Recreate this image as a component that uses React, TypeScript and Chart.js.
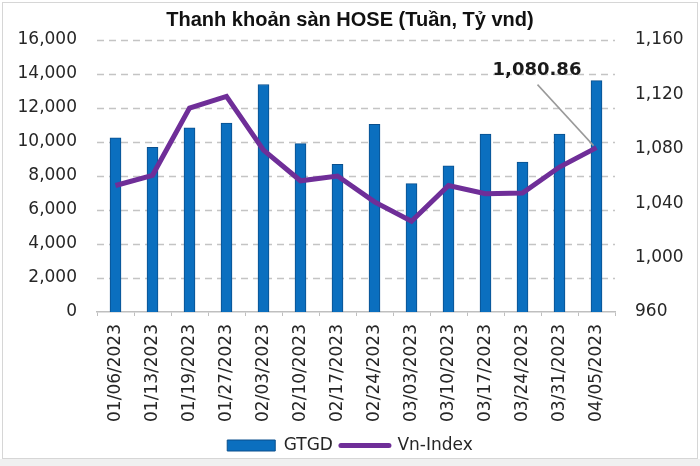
import React, { useEffect, useRef } from "react";
import { Chart, registerables } from "chart.js";

Chart.register(...registerables);

const categories = [
  "01/06/2023", "01/13/2023", "01/19/2023", "01/27/2023", "02/03/2023", "02/10/2023", "02/17/2023",
  "02/24/2023", "03/03/2023", "03/10/2023", "03/17/2023", "03/24/2023", "03/31/2023", "04/05/2023",
];
const gtgdValues = [10250, 9690, 10830, 11120, 13380, 9900, 8690, 11040, 7550, 8600, 10470, 8820, 10470, 13610];
const vnIndexValues = [1053, 1060.5, 1110, 1118.5, 1079, 1056.5, 1060, 1041, 1026.7, 1053, 1047, 1047.5, 1066.6, 1080.86];
const leftAxis = { min: 0, max: 16000, step: 2000 };
const rightAxis = { min: 960, max: 1160, step: 40 };

const TITLE = "Thanh khoản sàn HOSE (Tuần, Tỷ vnd)";
const BAR_COLOR = "#0b6fbf";
const LINE_COLOR = "#6f2e98";
const TICK_FONT = "'DejaVu Sans', sans-serif";

const fmt = (v: number) => v.toLocaleString("en-US");

const dashedGridPlugin = {
  id: "dashedGrid",
  beforeDatasetsDraw(chart: any) {
    const y = chart.scales.y;
    const area = chart.chartArea;
    const ctx = chart.ctx;
    ctx.save();
    ctx.strokeStyle = "#c4c4c4";
    ctx.lineWidth = 1.5;
    ctx.setLineDash([7, 5]);
    y.ticks.forEach((t: any) => {
      if (t.value === leftAxis.min) return;
      const py = Math.round(y.getPixelForValue(t.value)) + 0.5;
      ctx.beginPath();
      ctx.moveTo(area.left, py);
      ctx.lineTo(area.right, py);
      ctx.stroke();
    });
    ctx.restore();
  },
};

const calloutPlugin = {
  id: "callout",
  afterDatasetsDraw(chart: any) {
    const meta = chart.getDatasetMeta(1);
    const last = meta.data[meta.data.length - 1];
    if (!last) return;
    const px = last.x;
    const py = last.y;
    const ctx = chart.ctx;
    ctx.save();
    ctx.strokeStyle = "#9a9a9a";
    ctx.lineWidth = 1.5;
    ctx.beginPath();
    ctx.moveTo(px - 3, py - 2);
    ctx.lineTo(px - 59, py - 63);
    ctx.stroke();
    const v = vnIndexValues[vnIndexValues.length - 1];
    const label = v.toLocaleString("en-US", { minimumFractionDigits: 2, maximumFractionDigits: 2 });
    ctx.font = "bold 18px 'DejaVu Sans', sans-serif";
    ctx.fillStyle = "#1a1a1a";
    ctx.textAlign = "center";
    ctx.textBaseline = "middle";
    ctx.fillText(label, px - 59.5, py - 77);
    ctx.restore();
  },
};

export default function App() {
  const ref = useRef<HTMLCanvasElement | null>(null);

  useEffect(() => {
    document.body.style.margin = "0";
    const canvas = ref.current;
    if (!canvas) return;
    const chart = new Chart(canvas, {
      type: "bar",
      data: {
        labels: categories,
        datasets: [
          {
            type: "bar",
            label: "GTGD",
            data: gtgdValues,
            backgroundColor: BAR_COLOR,
            borderColor: "#0a4f8c",
            borderWidth: 1,
            barThickness: 11,
            yAxisID: "y",
            order: 2,
          },
          {
            type: "line",
            label: "Vn-Index",
            data: vnIndexValues,
            borderColor: LINE_COLOR,
            backgroundColor: LINE_COLOR,
            borderWidth: 5,
            pointRadius: 0,
            pointHoverRadius: 0,
            tension: 0,
            yAxisID: "y1",
            order: 1,
          } as any,
        ],
      },
      options: {
        animation: false,
        responsive: false,
        devicePixelRatio: 1,
        layout: { padding: { left: 0, right: 0, top: 0, bottom: 2 } },
        plugins: {
          title: {
            display: true,
            text: TITLE,
            color: "#111",
            font: { family: "'Liberation Sans', Arial, sans-serif", size: 20, weight: "bold" },
            padding: { top: 8, bottom: 8 },
          },
          legend: {
            position: "bottom",
            labels: {
              usePointStyle: true,
              pointStyleWidth: 48,
              boxHeight: 11,
              padding: 8,
              color: "#262626",
              font: { family: TICK_FONT, size: 17 },
              sort: (a: any, b: any) => a.datasetIndex - b.datasetIndex,
              generateLabels(c: any) {
                const items = Chart.defaults.plugins.legend.labels.generateLabels(c);
                return items.map((it: any) => {
                  if (it.datasetIndex === 0) {
                    return { ...it, pointStyle: "rect", fillStyle: BAR_COLOR, strokeStyle: "#0a4f8c", lineWidth: 1 };
                  }
                  return { ...it, pointStyle: "line", strokeStyle: LINE_COLOR, lineWidth: 5, lineCap: "round" };
                });
              },
            },
          },
          tooltip: { enabled: false },
        },
        scales: {
          x: {
            offset: true,
            grid: {
              display: true,
              drawOnChartArea: false,
              drawTicks: true,
              tickLength: 4,
              color: "#bfbfbf",
              offset: true,
            },
            border: { display: true, color: "#bfbfbf", width: 1.5 },
            ticks: {
              autoSkip: false,
              maxRotation: 90,
              minRotation: 90,
              padding: 8,
              color: "#262626",
              font: { family: TICK_FONT, size: 17 },
            },
            afterFit(scale: any) {
              scale.height = 117;
            },
          },
          y: {
            position: "left",
            min: leftAxis.min,
            max: leftAxis.max,
            grid: { display: false, drawTicks: false },
            border: { display: false },
            ticks: {
              stepSize: leftAxis.step,
              padding: 20,
              color: "#262626",
              font: { family: TICK_FONT, size: 17 },
              callback: (v: any) => fmt(Number(v)),
            },
            afterFit(scale: any) {
              scale.width = 97;
            },
          },
          y1: {
            position: "right",
            min: rightAxis.min,
            max: rightAxis.max,
            grid: { display: false, drawOnChartArea: false },
            border: { display: false },
            ticks: {
              stepSize: rightAxis.step,
              padding: 12,
              color: "#262626",
              font: { family: TICK_FONT, size: 17 },
              callback: (v: any) => fmt(Number(v)),
            },
            afterFit(scale: any) {
              scale.width = 85;
            },
          },
        },
      },
      plugins: [dashedGridPlugin, calloutPlugin],
    });
    return () => chart.destroy();
  }, []);

  return (
    <div style={{ position: "relative", width: 700, height: 466, background: "#ffffff", overflow: "hidden" }}>
      <div
        style={{
          position: "absolute",
          left: 0,
          top: 459,
          width: 700,
          height: 7,
          background: "#f0f0f0",
        }}
      />
      <canvas ref={ref} width={700} height={466} style={{ position: "absolute", left: 0, top: 0, width: 700, height: 466 }} />
      <div
        style={{
          position: "absolute",
          left: 2,
          top: 2,
          width: 694,
          height: 455,
          border: "1px solid #d6d6d6",
          pointerEvents: "none",
        }}
      />
    </div>
  );
}
